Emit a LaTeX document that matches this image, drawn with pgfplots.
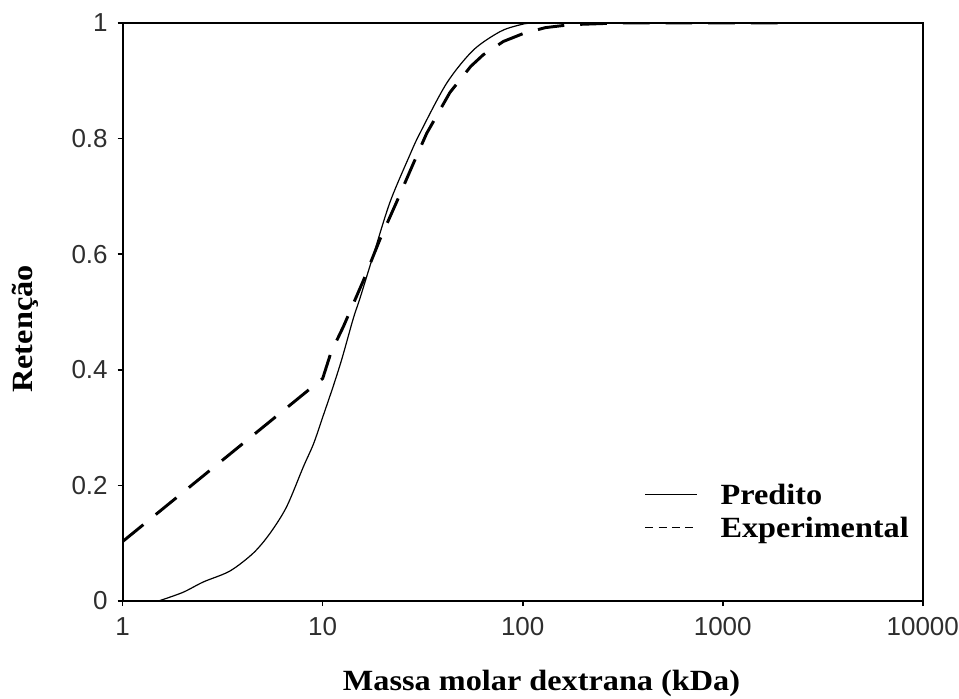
\documentclass[border=0pt]{standalone}
\usepackage{pgfplots}
\pgfplotsset{compat=1.18}
\usepackage{fontspec}
\setmainfont{Liberation Serif}
\newfontfamily\arialfont{Liberation Sans}
\newcommand{\wide}[1]{\scalebox{1.1}[1]{#1}}
\begin{document}
\begin{tikzpicture}
\useasboundingbox (-92pt,-72.75pt) rectangle (627.2pt,450.75pt);
\begin{axis}[
  scale only axis,
  width=600pt, height=433.5pt,
  xmode=log,
  xmin=1, xmax=10000, ymin=0, ymax=1,
  xtick={1,10,100,1000,10000},
  xticklabels={1,10,100,1000,10000},
  ytick={0,0.2,0.4,0.6,0.8,1},
  yticklabels={0,0.2,0.4,0.6,0.8,1},
  xminorticks=false, yminorticks=false,
  xtick pos=lower, ytick pos=left,
  tick align=outside,
  major tick length=3.75pt,
  tick style={line width=1.2pt, black},
  axis line style={line width=1.4pt},
  /pgf/number format/assume math mode=true,
  ticklabel style={font=\arialfont\fontsize{19.5}{22}\selectfont, text=black!82},
  yticklabel style={xshift=-4pt},
  xticklabel style={yshift=-5pt},
  xlabel={\wide{\textbf{Massa molar dextrana (kDa)}}},
  ylabel={\wide{\textbf{Retenção}}},
  label style={font=\fontsize{22}{26}\selectfont},
  xlabel style={at={(axis description cs:0.5235,0)}, anchor=base, yshift=-66.75pt},
  ylabel style={at={(axis description cs:-0.1221,0.4706)}, anchor=center},
  legend style={at={(axis description cs:0.652,0.207)}, anchor=north west, draw=none, fill=none,
    font=\bfseries\fontsize{22}{26}\selectfont, row sep=1.75pt, inner sep=0pt,
    nodes={inner sep=1pt, text height=16pt, text depth=5pt}},
  legend cell align=left,
  legend image code/.code={\draw[#1] (0pt,2pt) -- (39pt,2pt);},
  /tikz/every odd column/.append style={column sep=16pt},
]
\addplot[black, line width=0.9pt, smooth, forget plot] coordinates {
(1.51,0) (2.0,0.015) (2.53,0.033) (3.44,0.052) (4.5,0.083) (5.45,0.117)
(6.6,0.163) (8.0,0.232) (9.0,0.272) (10.0,0.318) (11.3,0.372) (12.5,0.42)
(14.2,0.488) (15.4,0.525) (17.9,0.598) (21.7,0.69) (27.3,0.772) (30.6,0.809)
(41.7,0.896) (56.6,0.953) (77,0.985) (95,0.996) (113,1.0) (200,1.0) (1000,1.0)
};
\addplot[black, line width=2.2pt, dash pattern=on 20pt off 12pt, forget plot] coordinates {
(1,0.103) (10,0.385) (11,0.43) (12.7,0.475) (16,0.555) (19.3,0.625) (23.4,0.69)
(28.4,0.757) (33.1,0.809) (43.3,0.88) (55,0.925) (63.5,0.945) (80,0.968) (101,0.982) (130,0.992)
(172,0.997) (300,1.0) (2000,1.0)
};
\addlegendimage{black, line width=1pt}
\addlegendentry{\wide{Predito}}
\addlegendimage{black, line width=1pt, dash pattern=on 6pt off 4pt}
\addlegendentry{\wide{Experimental}}
\end{axis}
\end{tikzpicture}
\end{document}
